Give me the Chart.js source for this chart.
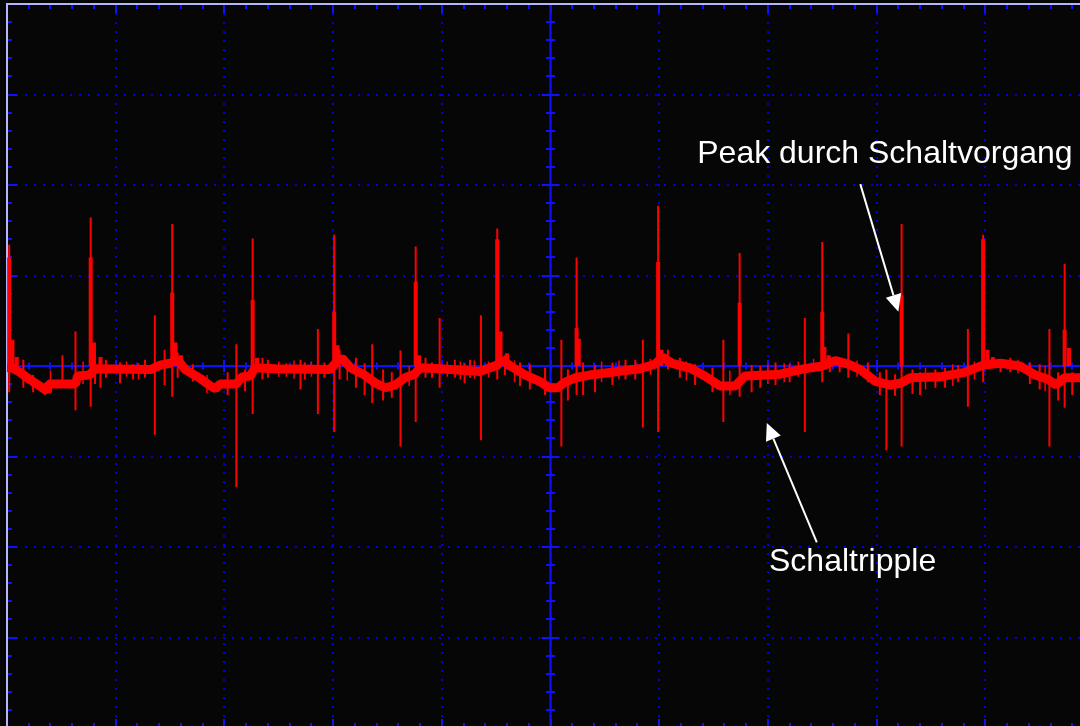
<!DOCTYPE html>
<html>
<head>
<meta charset="utf-8">
<script src="https://cdn.jsdelivr.net/npm/chart.js@4.4.0/dist/chart.umd.min.js"></script>
<style>
html, body { margin: 0; padding: 0; background: #060606; overflow: hidden; width: 1080px; height: 726px; }
#wrap { position: absolute; left: 0; top: 0; }
</style>
</head>
<body>
<div id="wrap"><canvas id="scope" width="1100" height="732"></canvas></div>
<script>
"use strict";
// values in screen divisions (10 x 8 grid, centre = 5 / 0)

// slow ripple of the trace
var baseX = [0, 0.05, 0.12, 0.21, 0.30, 0.37, 0.38, 0.63, 0.65, 0.76, 0.81, 1.32, 1.41, 1.50, 1.57, 1.64, 1.78, 1.87, 1.92, 1.96,
  2.11, 2.16, 2.24, 2.28, 2.47, 2.97, 3.03, 3.08, 3.16, 3.29, 3.39, 3.48, 3.57, 3.66, 3.75, 3.80, 3.98, 4.35, 4.51, 4.56,
  4.63, 4.77, 4.90, 4.99, 5.07, 5.13, 5.23, 5.36, 5.82, 5.96, 6.03, 6.12, 6.28, 6.42, 6.56, 6.70, 6.79, 7.11, 7.34, 7.50,
  7.62, 7.74, 7.85, 7.99, 8.12, 8.22, 8.31, 8.58, 8.81, 8.98, 9.14, 9.32, 9.46, 9.58, 9.65, 9.73, 9.87, 10.0];
var baseY = [-0.02, -0.02, -0.07, -0.15, -0.22, -0.28, -0.20, -0.20, -0.11, -0.10, -0.03, -0.04, 0.01, 0.03, 0.07, -0.04, -0.14, -0.22, -0.25, -0.20,
  -0.20, -0.12, -0.11, -0.02, -0.03, -0.04, 0.04, 0.09, -0.02, -0.10, -0.19, -0.24, -0.21, -0.13, -0.09, -0.02, -0.03, -0.06, 0.01, 0.07,
  0, -0.10, -0.17, -0.24, -0.24, -0.18, -0.13, -0.10, -0.03, 0.02, 0.10, 0.03, -0.02, -0.11, -0.22, -0.22, -0.11, -0.09, -0.03, 0,
  0.06, 0.02, -0.04, -0.17, -0.21, -0.19, -0.13, -0.12, -0.07, 0.01, 0.03, 0, -0.10, -0.15, -0.21, -0.13, -0.13, -0.15];

// switching peaks
var spikeX = [0.02, 0.63, 0.77, 1.36, 1.52, 2.11, 2.26, 2.86, 3.01, 3.36, 3.62, 3.76, 3.98, 4.36, 4.51,
  5.10, 5.24, 5.85, 5.99, 6.59, 6.74, 7.34, 7.50, 7.74, 8.09, 8.23, 8.84, 8.98, 9.59, 9.73];
var spikeTop = [1.34, 0.38, 1.64, 0.56, 1.57, 0.24, 1.41, 0.41, 1.45, 0.24, 0.17, 1.32, 0.53, 0.56, 1.52,
  0.29, 1.20, 0.29, 1.77, 0.29, 1.25, 0.53, 1.37, 0.36, -0.04, 1.57, 0.41, 1.45, 0.41, 1.13];
var spikeBottom = [-0.29, -0.49, -0.45, -0.76, -0.34, -1.34, -0.53, -0.53, -0.73, -0.41, -0.89, -0.62, -0.24, -0.82, -0.15,
  -0.89, -0.32, -0.68, -0.73, -0.62, -0.34, -0.73, -0.18, -0.13, -0.93, -0.89, -0.45, -0.18, -0.89, -0.46];

// thick lower part of the big peaks
var shoulderX = [0.02, 0.77, 1.52, 2.26, 3.01, 3.76, 4.51, 5.24, 5.99, 6.74, 7.50, 8.23, 8.98, 9.73];
var shoulderTop = [1.20, 1.20, 0.81, 0.73, 0.60, 0.93, 1.40, 0.42, 1.15, 0.70, 0.60, 0.78, 1.40, 0.40];

// decay right after a peak
var tailX = [0.05, 0.09, 0.80, 0.86, 1.55, 1.60, 2.30, 3.04, 3.10, 3.79, 4.54, 4.60, 5.26, 6.02, 6.07, 7.52, 7.56, 9.02, 9.07, 9.77];
var tailTop = [0.29, 0.10, 0.26, 0.10, 0.26, 0.12, 0.09, 0.23, 0.08, 0.12, 0.38, 0.14, 0.30, 0.18, 0.12, 0.21, 0.12, 0.18, 0.10, 0.20];

// small noise
var noiseX = [0.15, 0.24, 0.51, 0.81, 0.86, 0.91, 1.04, 1.16, 1.27, 1.45, 1.57, 1.71, 2.03, 2.19, 2.35, 2.40, 2.70, 2.74, 2.92, 3.06,
  3.21, 3.29, 3.46, 3.54, 3.85, 3.91, 4.12, 4.21, 4.26, 4.58, 4.72, 4.81, 4.95, 5.16, 5.30, 5.41, 5.57, 5.69, 5.78, 6.08,
  6.19, 6.33, 6.49, 6.85, 6.93, 7.07, 7.20, 7.57, 7.66, 7.92, 8.03, 8.17, 8.33, 8.40, 8.54, 8.63, 8.75, 9.14, 9.23, 9.41,
  9.50, 9.67, 9.80];
var noiseTop = [0.07, -0.10, 0.12, 0.09, 0.04, 0.07, 0.04, 0.02, 0.07, 0.18, 0.15, 0.02, -0.07, -0.04, 0.09, 0.07, 0.07, 0.04, 0.04, 0.18,
  0.09, 0.03, -0.04, -0.07, 0.09, 0.04, 0.07, 0.03, 0.07, 0.12, 0.04, 0.02, -0.02, -0.04, 0.04, 0.01, 0.04, 0.07, 0.07, 0.18,
  0.09, 0.02, -0.02, 0.01, 0, 0.04, 0.02, 0.09, 0.07, 0.04, -0.07, -0.09, -0.04, -0.07, -0.04, -0.02, 0.01, 0.07, 0.09, 0.04,
  0.02, -0.07, -0.07];
var noiseBottom = [-0.24, -0.29, -0.19, -0.20, -0.24, -0.13, -0.19, -0.15, -0.13, -0.21, -0.13, -0.17, -0.32, -0.28, -0.15, -0.13, -0.26, -0.15, -0.13, -0.15,
  -0.24, -0.32, -0.38, -0.35, -0.13, -0.13, -0.13, -0.19, -0.13, -0.10, -0.22, -0.26, -0.32, -0.38, -0.32, -0.29, -0.21, -0.15, -0.15, -0.04,
  -0.13, -0.21, -0.29, -0.29, -0.24, -0.21, -0.18, -0.07, -0.07, -0.18, -0.32, -0.33, -0.31, -0.32, -0.24, -0.24, -0.18, -0.07, -0.07, -0.20,
  -0.26, -0.38, -0.32];

// finer fuzz on the band
var fuzzX = [0.40, 0.70, 1.10, 1.21, 1.84, 2.50, 2.57, 2.64, 2.80, 3.13, 3.70, 4.05, 4.17, 4.30, 4.43, 4.67, 5.47, 5.63, 5.92, 6.25,
  6.65, 7.00, 7.15, 7.28, 7.42, 7.82, 8.45, 8.70, 8.90, 9.30, 9.55, 9.90];
var fuzzTop = [-0.05, 0.05, 0.05, 0.03, -0.10, 0.05, 0.03, 0.06, 0.05, 0.06, 0, 0.05, 0.05, 0.06, 0.05, 0.06, 0.05, 0.06, 0.08, 0.05,
  -0.05, 0.02, 0.03, 0.05, 0.08, 0.06, -0.02, 0.02, 0.05, 0.07, 0, -0.06];
var fuzzBottom = [-0.30, -0.20, -0.12, -0.15, -0.30, -0.12, -0.12, -0.14, -0.12, -0.16, -0.22, -0.12, -0.15, -0.14, -0.13, -0.18, -0.18, -0.15, -0.10, -0.16,
  -0.32, -0.20, -0.18, -0.12, -0.07, -0.12, -0.26, -0.22, -0.15, -0.08, -0.28, -0.26];

var notes = [
  { text: 'Peak durch Schaltvorgang', x: 6.35, y: 2.24, fromX: 7.85, fromY: 2.01, toX: 8.20, toY: 0.60 },
  { text: 'Schaltripple', x: 7.01, y: -2.26, fromX: 7.45, fromY: -1.95, toX: 6.99, toY: -0.63 }
];

function points(xs, ys) {
  return xs.map(function (x, i) { return { x: x, y: ys[i] }; });
}

// vertical strokes, separated by gaps
function strokes(xs, tops, bottoms) {
  var out = [];
  xs.forEach(function (x, i) {
    var b = bottoms ? bottoms[i] : 0;
    out.push({ x: x, y: tops[i] }, { x: x, y: b }, { x: x, y: null });
  });
  return out;
}

var scopeFrame = {
  id: 'scopeFrame',
  beforeDatasetsDraw: function (chart) {
    var ctx = chart.ctx, xs = chart.scales.x, ys = chart.scales.y, a = chart.chartArea;
    var cx = xs.getPixelForValue(5), cy = ys.getPixelForValue(0);
    ctx.save();
    ctx.strokeStyle = '#1010ff';
    ctx.lineWidth = 2;
    ctx.beginPath();
    ctx.moveTo(a.left, cy); ctx.lineTo(a.right, cy);
    ctx.moveTo(cx, a.top); ctx.lineTo(cx, a.bottom);
    for (var i = 0; i <= 50; i++) {
      var px = Math.round(xs.getPixelForValue(i / 5));
      var big = i % 5 === 0;
      var l = big ? 6 : 3.5;
      ctx.moveTo(px, cy - l); ctx.lineTo(px, cy + l);
      ctx.moveTo(px, a.top); ctx.lineTo(px, a.top + (big ? 9 : 5));
      ctx.moveTo(px, a.bottom); ctx.lineTo(px, a.bottom - (big ? 9 : 5));
    }
    for (var j = 0; j <= 40; j++) {
      var py = Math.round(ys.getPixelForValue(-4 + j / 5));
      var major = j % 5 === 0;
      var m = major ? 9 : 4.5;
      ctx.moveTo(cx - m, py); ctx.lineTo(cx + m, py);
      ctx.moveTo(a.left, py); ctx.lineTo(a.left + (major ? 10 : 5), py);
    }
    ctx.stroke();
    ctx.strokeStyle = '#b4b4ff';
    ctx.beginPath();
    ctx.moveTo(a.left, a.bottom); ctx.lineTo(a.left, a.top); ctx.lineTo(a.right, a.top);
    ctx.stroke();
    ctx.restore();
  },
  afterDraw: function (chart) {
    var ctx = chart.ctx, xs = chart.scales.x, ys = chart.scales.y;
    ctx.save();
    ctx.fillStyle = '#ffffff';
    ctx.strokeStyle = '#ffffff';
    ctx.lineWidth = 2;
    ctx.font = '32px "Liberation Sans", Arial, sans-serif';
    ctx.textBaseline = 'alphabetic';
    notes.forEach(function (n) {
      ctx.fillText(n.text, xs.getPixelForValue(n.x), ys.getPixelForValue(n.y));
      var x1 = xs.getPixelForValue(n.fromX), y1 = ys.getPixelForValue(n.fromY);
      var x2 = xs.getPixelForValue(n.toX), y2 = ys.getPixelForValue(n.toY);
      var ang = Math.atan2(y2 - y1, x2 - x1), head = 17, half = 8;
      var bx = x2 - head * Math.cos(ang), by = y2 - head * Math.sin(ang);
      ctx.beginPath();
      ctx.moveTo(x1, y1); ctx.lineTo(bx, by);
      ctx.stroke();
      ctx.beginPath();
      ctx.moveTo(x2, y2);
      ctx.lineTo(bx + half * Math.sin(ang), by - half * Math.cos(ang));
      ctx.lineTo(bx - half * Math.sin(ang), by + half * Math.cos(ang));
      ctx.closePath();
      ctx.fill();
    });
    ctx.restore();
  }
};

var red = '#ff0000';
var lineDefaults = { borderColor: red, pointRadius: 0, tension: 0, borderCapStyle: 'butt', spanGaps: false };

var ctx = document.getElementById('scope');
var scope = new Chart(ctx, {
  type: 'line',
  data: {
    datasets: [
      Object.assign({ data: strokes(spikeX, spikeTop, spikeBottom), borderWidth: 2 }, lineDefaults),
      Object.assign({ data: strokes(shoulderX, shoulderTop), borderWidth: 4 }, lineDefaults),
      Object.assign({ data: strokes(tailX, tailTop), borderWidth: 4 }, lineDefaults),
      Object.assign({ data: strokes(noiseX, noiseTop, noiseBottom), borderWidth: 2 }, lineDefaults),
      Object.assign({ data: strokes(fuzzX, fuzzTop, fuzzBottom), borderWidth: 1.5 }, lineDefaults),
      Object.assign({ data: points(baseX, baseY), borderWidth: 9, borderJoinStyle: 'bevel' }, lineDefaults)
    ]
  },
  options: {
    responsive: false,
    animation: false,
    devicePixelRatio: 1,
    layout: { padding: { left: 7, top: 4, right: 6, bottom: 4 } },
    plugins: { legend: { display: false }, tooltip: { enabled: false } },
    scales: {
      x: {
        type: 'linear', min: 0, max: 10,
        ticks: { display: false, stepSize: 1 },
        grid: { color: '#0000e0', lineWidth: 2, drawTicks: false },
        border: { display: false, dash: [2, 7] },
        afterFit: function (s) { s.height = 0; }
      },
      y: {
        type: 'linear', min: -4, max: 4,
        ticks: { display: false, stepSize: 1 },
        grid: { color: '#0000e0', lineWidth: 2, drawTicks: false },
        border: { display: false, dash: [2, 7] },
        afterFit: function (s) { s.width = 0; }
      }
    }
  },
  plugins: [scopeFrame]
});
</script>
</body>
</html>
